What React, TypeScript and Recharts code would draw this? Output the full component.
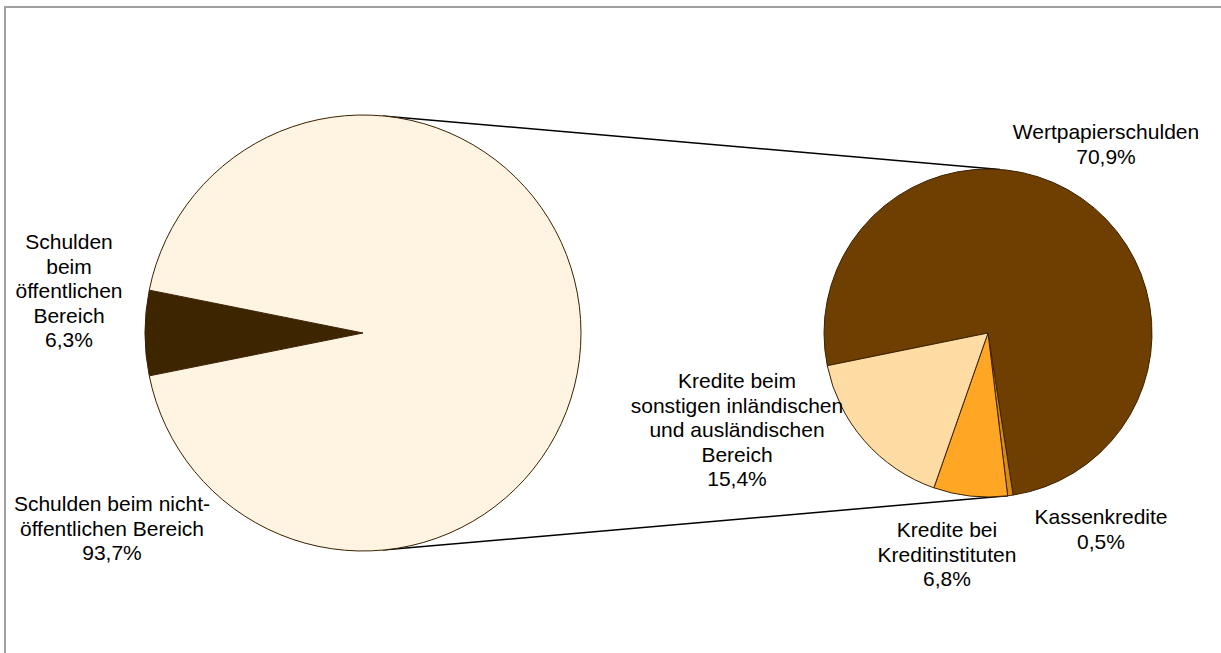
import { PieChart, Pie, Cell, Customized } from "recharts";

// outer pie: total debt split
const mainNames = ["Schulden\nbeim\nöffentlichen\nBereich", "Schulden beim nicht-\nöffentlichen Bereich"];
const mainValues = [6.3, 93.7];
const mainColors = ["#3d2500", "#fff3e1"];

// second pie: breakdown of the non-public part
const subNames = [
  "Wertpapierschulden",
  "Kassenkredite",
  "Kredite bei\nKreditinstituten",
  "Kredite beim\nsonstigen inländischen\nund ausländischen\nBereich",
];
const subValues = [70.9, 0.5, 6.8, 15.4];
const subColors = ["#6e3f00", "#d98b14", "#ffa724", "#ffdca4"];

const mainData = mainNames.map((name, i) => ({ name, value: mainValues[i] }));
const subData = subNames.map((name, i) => ({ name, value: subValues[i] }));

const W = 1221;
const H = 653;
const FONT = "'Liberation Sans', Arial, sans-serif";
const STROKE = "#3a2200";

const MAIN = { cx: 363, cy: 333, r: 218 };
const SUB = { cx: 988, cy: 333, r: 164 };

// label anchor: centre x and first baseline
const mainLabelPos = [
  { x: 69, y: 249 },
  { x: 112, y: 511 },
];
const subLabelPos = [
  { x: 1106, y: 139 },
  { x: 1101, y: 524 },
  { x: 947, y: 537 },
  { x: 737, y: 388 },
];

const fmt = (v: number) => v.toFixed(1).replace(".", ",") + "%";

function makeLabel(names: string[], values: number[], pos: { x: number; y: number }[]) {
  return (props: any) => {
    const i = props.index;
    const lines = [...names[i].split("\n"), fmt(values[i])];
    return (
      <text
        key={"lbl" + i}
        x={pos[i].x}
        y={pos[i].y}
        textAnchor="middle"
        fontFamily={FONT}
        fontSize={21}
        fill="#000"
      >
        {lines.map((l, k) => (
          <tspan key={k} x={pos[i].x} dy={k === 0 ? 0 : 24.5}>
            {l}
          </tspan>
        ))}
      </text>
    );
  };
}

const rad = (a: number) => (a * Math.PI) / 180;
const pt = (c: { cx: number; cy: number; r: number }, a: number) => ({
  x: c.cx + c.r * Math.cos(rad(a)),
  y: c.cy - c.r * Math.sin(rad(a)),
});

function Connectors() {
  const a1 = pt(MAIN, 84.8);
  const b1 = pt(SUB, 85.8);
  const a2 = pt(MAIN, -84.8);
  const b2 = pt(SUB, -83);
  return (
    <g>
      <line x1={a1.x} y1={a1.y} x2={b1.x} y2={b1.y} stroke="#000" strokeWidth={1.5} />
      <line x1={a2.x} y1={a2.y} x2={b2.x} y2={b2.y} stroke="#000" strokeWidth={1.5} />
    </g>
  );
}

function Frame() {
  return (
    <g>
      <line x1={5} y1={7} x2={W} y2={7} stroke="#a0a0a0" strokeWidth={2} />
      <line x1={5} y1={6} x2={5} y2={H} stroke="#a0a0a0" strokeWidth={2} />
    </g>
  );
}

const mainStart = 180 - (mainValues[0] / 100) * 180;
const subStart = 191.5;

export default function App() {
  return (
    <div style={{ position: "absolute", left: 0, top: 0, width: W, height: H, background: "#fff" }}>
      <PieChart width={W} height={H} margin={{ top: 0, right: 0, bottom: 0, left: 0 }}>
        <Customized component={Frame} />
        <Customized component={Connectors} />
        <Pie
          data={mainData}
          dataKey="value"
          cx={MAIN.cx}
          cy={MAIN.cy}
          outerRadius={MAIN.r}
          startAngle={mainStart}
          endAngle={mainStart + 360}
          stroke={STROKE}
          strokeWidth={1}
          isAnimationActive={false}
          labelLine={false}
          label={makeLabel(mainNames, mainValues, mainLabelPos)}
        >
          {mainData.map((d, i) => (
            <Cell key={d.name} fill={mainColors[i]} />
          ))}
        </Pie>
        <Pie
          data={subData}
          dataKey="value"
          cx={SUB.cx}
          cy={SUB.cy}
          outerRadius={SUB.r}
          startAngle={subStart}
          endAngle={subStart - 360}
          stroke={STROKE}
          strokeWidth={1}
          isAnimationActive={false}
          labelLine={false}
          label={makeLabel(subNames, subValues, subLabelPos)}
        >
          {subData.map((d, i) => (
            <Cell key={d.name} fill={subColors[i]} />
          ))}
        </Pie>
      </PieChart>
    </div>
  );
}
